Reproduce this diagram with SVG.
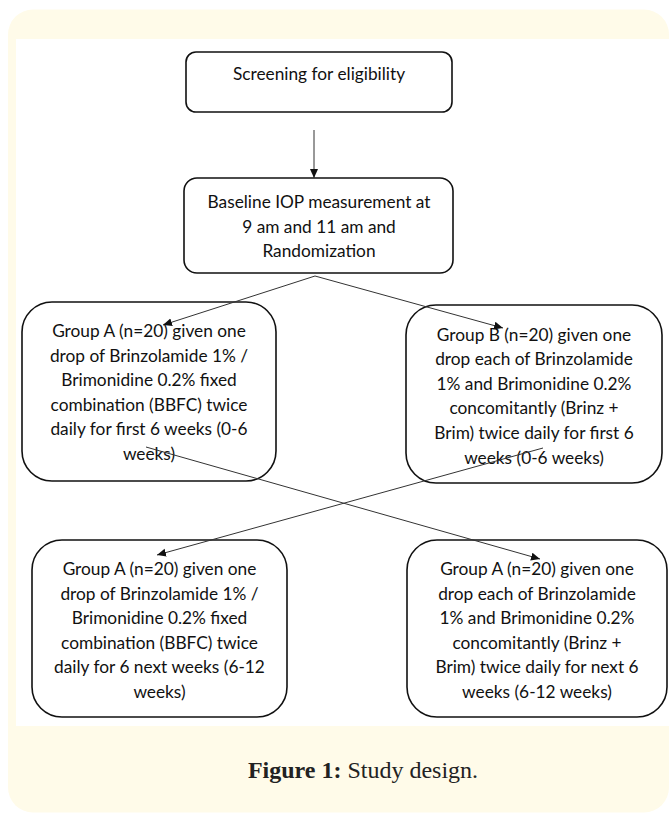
<svg xmlns="http://www.w3.org/2000/svg" width="670" height="815" viewBox="0 0 670 815">
<defs>
<style>
.bg{fill:#fffbe9}
.panel{fill:#ffffff}
.box{fill:#ffffff;stroke:#111111;stroke-width:1.6}
.t{font-family:Lato,"Open Sans","Liberation Sans",sans-serif;font-size:17.3px;fill:#111111;text-anchor:middle}
.edge{stroke:#333333;stroke-width:1;fill:none;marker-end:url(#ah)}
.cap{font-family:"Liberation Serif","DejaVu Serif",serif;font-size:24px;fill:#222222;text-anchor:middle}
</style>
<marker id="ah" markerUnits="userSpaceOnUse" markerWidth="10" markerHeight="9" refX="9" refY="4" orient="auto">
<path d="M0,0 L9,4 L0,8 Z" fill="#111111"/>
</marker>
</defs>
<rect class="bg" x="8" y="9.5" width="661" height="803" rx="25"/>
<rect class="panel" x="16" y="39" width="660" height="687"/>

<g id="screening">
<rect class="box" x="186" y="52" width="266" height="60" rx="10"/>
<text class="t" x="319" y="80">Screening for eligibility</text>
</g>

<g id="baseline">
<rect class="box" x="184" y="178" width="269" height="95" rx="13"/>
<text class="t" x="319" y="208">Baseline IOP measurement at</text>
<text class="t" x="319" y="232.5">9 am and 11 am and</text>
<text class="t" x="319" y="257">Randomization</text>
</g>

<g id="groupA1">
<rect class="box" x="22" y="302" width="254" height="179" rx="30"/>
<text class="t" x="149" y="337">Group A (n=20) given one</text>
<text class="t" x="149" y="361.6">drop of Brinzolamide 1% /</text>
<text class="t" x="149" y="386.2">Brimonidine 0.2% fixed</text>
<text class="t" x="149" y="410.8">combination (BBFC) twice</text>
<text class="t" x="149" y="435.4">daily for first 6 weeks (0-6</text>
<text class="t" x="149" y="460">weeks)</text>
</g>

<g id="groupB1">
<rect class="box" x="406" y="305" width="256" height="178" rx="30"/>
<text class="t" x="534" y="340.5">Group B (n=20) given one</text>
<text class="t" x="534" y="365.1">drop each of Brinzolamide</text>
<text class="t" x="534" y="389.7">1% and Brimonidine 0.2%</text>
<text class="t" x="534" y="414.3">concomitantly (Brinz +</text>
<text class="t" x="534" y="438.9">Brim) twice daily for first 6</text>
<text class="t" x="534" y="463.5">weeks (0-6 weeks)</text>
</g>

<g id="groupA2">
<rect class="box" x="32" y="540" width="255" height="177" rx="30"/>
<text class="t" x="159.5" y="575">Group A (n=20) given one</text>
<text class="t" x="159.5" y="599.6">drop of Brinzolamide 1% /</text>
<text class="t" x="159.5" y="624.2">Brimonidine 0.2% fixed</text>
<text class="t" x="159.5" y="648.8">combination (BBFC) twice</text>
<text class="t" x="159.5" y="673.4">daily for 6 next weeks (6-12</text>
<text class="t" x="159.5" y="698">weeks)</text>
</g>

<g id="groupB2">
<rect class="box" x="407" y="540" width="260" height="177" rx="30"/>
<text class="t" x="537" y="575">Group A (n=20) given one</text>
<text class="t" x="537" y="599.6">drop each of Brinzolamide</text>
<text class="t" x="537" y="624.2">1% and Brimonidine 0.2%</text>
<text class="t" x="537" y="648.8">concomitantly (Brinz +</text>
<text class="t" x="537" y="673.4">Brim) twice daily for next 6</text>
<text class="t" x="537" y="698">weeks (6-12 weeks)</text>
</g>

<g id="connectors">
<line class="edge" x1="314" y1="130" x2="314" y2="178"/>
<line class="edge" x1="315" y1="276" x2="163" y2="325"/>
<line class="edge" x1="315" y1="276" x2="503" y2="328"/>
<line class="edge" x1="146" y1="447" x2="540" y2="559"/>
<line class="edge" x1="543" y1="448" x2="157" y2="555"/>
</g>

<text class="cap" x="363" y="778"><tspan font-weight="bold">Figure 1:</tspan> Study design.</text>
</svg>
